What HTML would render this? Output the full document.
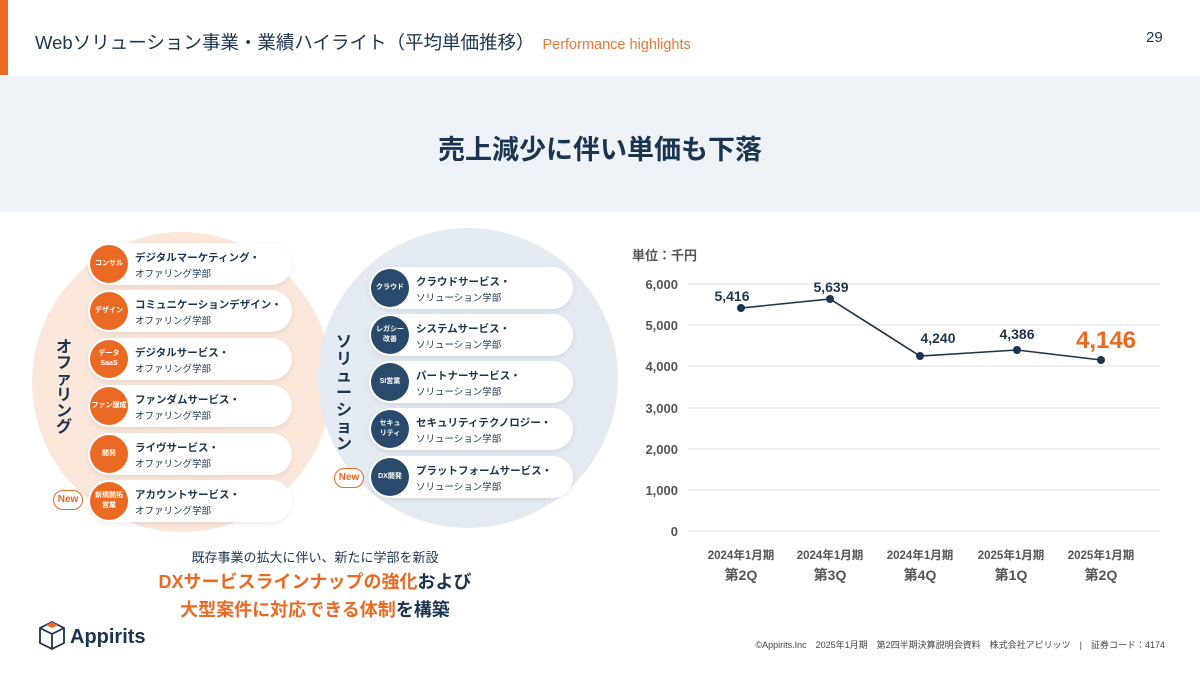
<!DOCTYPE html>
<html><head><meta charset="utf-8"><style>
*{margin:0;padding:0;box-sizing:border-box}
body{width:1200px;height:675px;position:relative;background:#fff;font-family:"Liberation Sans","Noto Sans CJK JP",sans-serif;color:#1b3550;overflow:hidden}
.abs{position:absolute}
.pill{position:absolute;width:204px;height:42px;background:#fff;border-radius:21px;box-shadow:0 2px 6px rgba(0,0,0,0.08)}
.badge{position:absolute;left:2px;top:2px;width:38px;height:38px;border-radius:50%;color:#fff;font-size:7px;font-weight:bold;display:flex;align-items:center;justify-content:center;text-align:center;line-height:1.4}
.o .badge{background:#ea6a24}
.b .badge{background:#2a4a6b}
.t1{position:absolute;left:47px;top:7px;font-size:10.5px;font-weight:bold;white-space:nowrap;color:#1b3550}
.t2{position:absolute;left:47px;top:23px;font-size:9.5px;white-space:nowrap;color:#1b3550}
.new{position:absolute;width:30px;height:20px;border:1.5px solid #ea6a24;border-radius:10px;color:#ea6a24;font-size:10px;font-weight:bold;text-align:center;line-height:17px;background:#fff}
</style></head><body>
<div class="abs" style="left:0;top:0;width:8px;height:75px;background:#ea6a24"></div>
<div class="abs" style="left:35px;top:29px;font-size:18.5px;color:#1b3550;white-space:nowrap">Webソリューション事業・業績ハイライト（平均単価推移）<span style="color:#e8793a;font-size:14.5px;margin-left:8px">Performance highlights</span></div>
<div class="abs" style="left:1146px;top:29px;font-size:15px">29</div>
<div class="abs" style="left:0;top:76px;width:1200px;height:136px;background:#eff3f7"></div>
<div class="abs" style="left:0;top:128px;width:1200px;text-align:center;font-size:27px;font-weight:bold;color:#1b3550">売上減少に伴い単価も下落</div>

<div class="abs" style="left:32px;top:232px;width:300px;height:300px;border-radius:50%;background:#fce7db"></div>
<div class="abs" style="left:318px;top:228px;width:300px;height:300px;border-radius:50%;background:#e4ebf2"></div>
<div class="abs" style="left:56px;top:340px;width:20px;font-size:16px;font-weight:bold;line-height:16px">オファリング</div>
<div class="abs" style="left:336px;top:334px;width:20px;font-size:16px;font-weight:bold;line-height:17px">ソリューション</div>

<div class="pill o" style="left:88px;top:243px"><div class="badge">コンサル</div><div class="t1">デジタルマーケティング・</div><div class="t2">オファリング学部</div></div>
<div class="pill o" style="left:88px;top:290px"><div class="badge">デザイン</div><div class="t1">コミュニケーションデザイン・</div><div class="t2">オファリング学部</div></div>
<div class="pill o" style="left:88px;top:338px"><div class="badge">データ<br>SaaS</div><div class="t1">デジタルサービス・</div><div class="t2">オファリング学部</div></div>
<div class="pill o" style="left:88px;top:385px"><div class="badge">ファン醸成</div><div class="t1">ファンダムサービス・</div><div class="t2">オファリング学部</div></div>
<div class="pill o" style="left:88px;top:433px"><div class="badge">開発</div><div class="t1">ライヴサービス・</div><div class="t2">オファリング学部</div></div>
<div class="pill o" style="left:88px;top:480px"><div class="badge">新規開拓<br>営業</div><div class="t1">アカウントサービス・</div><div class="t2">オファリング学部</div></div>
<div class="new" style="left:53px;top:490px">New</div>

<div class="pill b" style="left:369px;top:267px"><div class="badge">クラウド</div><div class="t1">クラウドサービス・</div><div class="t2">ソリューション学部</div></div>
<div class="pill b" style="left:369px;top:314px"><div class="badge">レガシー<br>改善</div><div class="t1">システムサービス・</div><div class="t2">ソリューション学部</div></div>
<div class="pill b" style="left:369px;top:361px"><div class="badge">SI営業</div><div class="t1">パートナーサービス・</div><div class="t2">ソリューション学部</div></div>
<div class="pill b" style="left:369px;top:408px"><div class="badge">セキュ<br>リティ</div><div class="t1">セキュリティテクノロジー・</div><div class="t2">ソリューション学部</div></div>
<div class="pill b" style="left:369px;top:456px"><div class="badge">DX開発</div><div class="t1">プラットフォームサービス・</div><div class="t2">ソリューション学部</div></div>
<div class="new" style="left:334px;top:468px">New</div>

<div class="abs" style="left:100px;top:547px;width:430px;text-align:center;font-size:13px">既存事業の拡大に伴い、新たに学部を新設</div>
<div class="abs" style="left:100px;top:568px;width:430px;text-align:center;font-size:18px;font-weight:bold;line-height:28px"><span style="color:#ea6a24">DXサービスラインナップの強化</span>および<br><span style="color:#ea6a24">大型案件に対応できる体制</span>を構築</div>

<svg class="abs" style="left:0;top:0" width="1200" height="675">
<g stroke="#e3e6ea" stroke-width="1.3">
<line x1="688" x2="1160" y1="284" y2="284"/><line x1="688" x2="1160" y1="325" y2="325"/><line x1="688" x2="1160" y1="366" y2="366"/><line x1="688" x2="1160" y1="408" y2="408"/><line x1="688" x2="1160" y1="449" y2="449"/><line x1="688" x2="1160" y1="490" y2="490"/><line x1="688" x2="1160" y1="531" y2="531"/>
</g>
<g font-size="13" fill="#555" text-anchor="end" font-weight="bold" font-family="Liberation Sans,sans-serif">
<text x="678" y="289">6,000</text><text x="678" y="330">5,000</text><text x="678" y="371">4,000</text><text x="678" y="413">3,000</text><text x="678" y="454">2,000</text><text x="678" y="495">1,000</text><text x="678" y="536">0</text>
</g>
<text x="632" y="260" font-size="13" fill="#555" font-weight="bold" font-family="Liberation Sans,Noto Sans CJK JP,sans-serif">単位：千円</text>
<polyline points="741,308 830,299 920,356 1017,350 1101,360" fill="none" stroke="#1b3550" stroke-width="1.6"/>
<g fill="#1b3550"><circle cx="741" cy="308" r="4"/><circle cx="830" cy="299" r="4"/><circle cx="920" cy="356" r="4"/><circle cx="1017" cy="350" r="4"/><circle cx="1101" cy="360" r="4"/></g>
<g font-size="14" font-weight="bold" fill="#1b3550" text-anchor="middle" font-family="Liberation Sans,sans-serif">
<text x="732" y="301">5,416</text><text x="831" y="292">5,639</text><text x="938" y="343">4,240</text><text x="1017" y="339">4,386</text>
</g>
<text x="1106" y="348" font-size="24" font-weight="bold" fill="#ea6a24" text-anchor="middle" font-family="Liberation Sans,sans-serif">4,146</text>
<g font-size="11.5" font-weight="bold" fill="#555" text-anchor="middle" font-family="Liberation Sans,Noto Sans CJK JP,sans-serif">
<text x="741" y="559">2024年1月期</text><text x="830" y="559">2024年1月期</text><text x="920" y="559">2024年1月期</text><text x="1011" y="559">2025年1月期</text><text x="1101" y="559">2025年1月期</text>
<g font-size="14"><text x="741" y="580">第2Q</text><text x="830" y="580">第3Q</text><text x="920" y="580">第4Q</text><text x="1011" y="580">第1Q</text><text x="1101" y="580">第2Q</text></g>
</g>
<g stroke="#1b3550" stroke-width="1.8" fill="none"><path d="M40,628 L52,622 L64,628 L64,643 L52,649 L40,643 Z M40,628 L52,634 L64,628 M52,634 L52,649"/></g>
<path d="M46,625 L52,622 L58,625 L52,628 Z" fill="#ea6a24"/>
<text x="70" y="643" font-size="20" font-weight="bold" fill="#1b3550" font-family="Liberation Sans,sans-serif">Appirits</text>
<text x="1165" y="648" font-size="9" fill="#444" text-anchor="end" font-family="Liberation Sans,Noto Sans CJK JP,sans-serif">©Appirits.Inc　2025年1月期　第2四半期決算説明会資料　株式会社アピリッツ　|　証券コード：4174</text>
</svg>
</body></html>
